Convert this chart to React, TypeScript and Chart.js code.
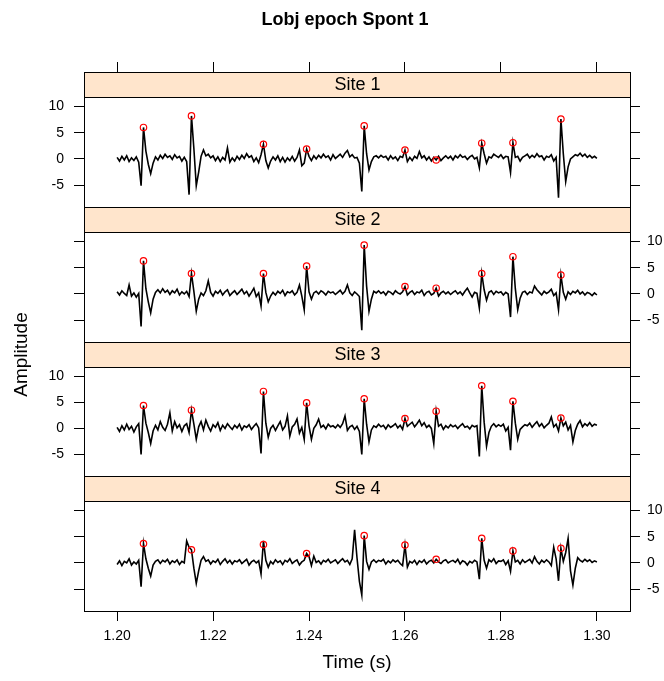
import React, { useEffect, useRef } from 'react';
import { Chart, registerables } from 'chart.js';

Chart.register(...registerables);

// ---------------- data ----------------
const TITLE = 'Lobj epoch Spont 1';
const X_LABEL = 'Time (s)';
const Y_LABEL = 'Amplitude';
const SITES = ['Site 1', 'Site 2', 'Site 3', 'Site 4'];
const X_TICKS = [1.2, 1.22, 1.24, 1.26, 1.28, 1.3];
const X_TICK_LABELS = ['1.20', '1.22', '1.24', '1.26', '1.28', '1.30'];
const Y_TICKS = [-5, 0, 5, 10];
const Y_TICK_LABELS = ['-5', '0', '5', '10'];

// sampling of the traces (start time and sample step, seconds)
const T_START = 1.2;
const T_STEP = 0.0005;

// detected spike times (s)
const SPIKE_TIMES = [1.2055, 1.2155, 1.2305, 1.2395, 1.2515, 1.26, 1.2665, 1.276, 1.2825, 1.2925];

const SITE1_PEAKS = [6.0, 8.2, 2.8, 1.9, 6.3, 1.7, -0.2, 3.0, 3.1, 7.6];
const SITE2_PEAKS = [6.3, 3.9, 3.9, 5.3, 9.3, 1.4, 1.1, 3.9, 7.1, 3.6];
const SITE3_PEAKS = [4.4, 3.5, 7.1, 4.9, 5.7, 1.9, 3.3, 8.2, 5.2, 2.0];
const SITE4_PEAKS = [3.7, 2.5, 3.5, 1.8, 5.2, 3.4, 0.7, 4.7, 2.3, 2.8];

const SITE1 = [
  0.3, -0.4, 0.5, -0.2, 0.6, -0.5, 0.2, -0.3, 0.4, -0.6,
  -5.1, 6.0, 1.5, -1.0, -2.8, -0.8, 0.4, -0.2, 0.7, 0.1,
  0.9, 0.3, 0.6, -0.1, 0.8, 0.2, 0.5, -0.4, 0.3, -0.5,
  -6.8, 8.2, 2.0, -5.1, -2.5, 0.5, 1.7, 0.6, 0.9, 0.2,
  0.6, -0.3, 0.4, -0.5, 0.3, -0.2, 2.1, -0.6, 0.2, -0.4,
  0.5, -0.1, 0.7, 0.1, 1.0, 0.3, 0.6, -0.5, 0.2, -0.7,
  0.8, 2.8, -0.3, -1.7, -0.4, 0.4, -0.2, 0.6, -0.5, 0.3,
  -0.6, 0.2, -0.3, 0.5, -0.4, 0.3, 1.7, -1.3, -0.8, 1.9,
  0.5, -0.3, 0.6, 0.0, 0.7, 0.2, 0.9, 0.3, 0.6, -0.2,
  0.8, 0.1, 0.5, 0.9, 0.3, 1.1, 1.6, 0.4, 0.8, 0.2,
  0.3, -0.8, -6.2, 6.3, 1.0, -2.1, -0.5, 0.4, 0.6, 0.2,
  0.7, 0.3, 0.5, -0.2, 0.6, 0.0, 0.4, -0.3, 0.5, 0.3,
  1.7, -0.5, 0.3, -0.3, 0.5, 0.1, 1.4, 0.2, 0.6, -0.2,
  0.4, -0.4, 0.3, -0.2, 0.5, -0.3, 0.2, 0.6, 0.1, 0.5,
  -0.2, 0.6, 0.2, 0.8, 0.3, 0.5, -0.1, 0.4, 0.7, 0.0,
  0.3, -1.7, 3.0, 1.0, -0.8, 0.4, 0.2, 0.9, 0.6, 0.3,
  0.8, 0.1, 0.5, 0.4, -2.6, 3.1, 0.3, 0.5, -0.4, 0.3,
  0.6, 0.9, 0.2, 0.7, 0.3, 1.0, 0.4, 0.6, -0.2, 0.5,
  0.3, 0.8, -0.4, 0.3, -7.4, 7.6, 1.0, -4.3, -1.5, 0.0,
  0.4, 0.8, 0.6, 1.1, 0.5, 0.9, 0.3, 0.7, 0.2, 0.5,
  0.1,
];

const SITE2 = [
  0.4, -0.2, 0.6, 0.1, -0.3, 1.7, -0.4, 0.2, -0.6, 0.1,
  -6.2, 6.3, 1.0, -1.5, -3.6, -1.0, 0.3, 0.8, 0.2, 1.0,
  0.3, 0.7, -0.1, 0.6, 0.2, 0.9, -0.2, 0.4, 0.0, 0.5,
  -0.5, 3.9, 0.5, -3.3, -1.0, 0.2, -0.3, 0.6, 2.5, 0.3,
  -0.4, 0.5, 0.1, 0.7, -0.2, 0.4, 0.8, -0.3, 0.2, 0.6,
  -0.1, 0.4, 0.9, 0.0, 0.5, -0.4, 0.3, 1.1, -0.5, 0.2,
  -2.3, 3.9, 0.3, -1.5, -0.4, 0.3, -0.2, 0.5, 0.1, 0.7,
  -0.3, 0.4, 0.2, 0.6, -0.2, 0.3, 1.7, -0.4, -3.0, 5.3,
  0.4, -1.0, 0.2, 0.5, 0.0, 0.6, 0.3, -0.2, 0.5, 0.2,
  0.4, -0.1, 0.3, 0.7, 0.0, 0.5, 1.7, 0.2, -0.3, 0.4,
  0.0, -0.5, -6.9, 9.3, 1.5, -3.3, -1.0, 0.5, 0.2, 0.6,
  0.1, 0.4, -0.2, 0.5, 0.3, -0.1, 0.6, 0.2, 0.0, 0.4,
  1.4, -0.2, 0.3, 0.6, -0.1, 0.4, 0.2, 0.7, -0.3, 0.3,
  0.5, -0.2, 0.1, 1.1, -0.4, 0.2, 0.5, 0.0, 0.4, -0.1,
  0.3, 0.6, 0.0, 0.4, -0.2, 0.5, 1.1, 0.2, -0.6, 0.3,
  0.1, -2.7, 3.9, 0.8, -1.2, 0.3, 0.6, -0.1, 0.5, 0.2,
  0.4, -0.2, 0.3, 0.0, -4.4, 7.1, 1.0, -3.0, -0.8, 0.3,
  0.5, -0.1, 0.4, 0.2, 1.5, 0.8, 0.3, -0.2, 0.5, 0.1,
  0.4, 0.9, -0.3, 0.2, -3.0, 3.6, 0.3, -1.0, 0.4, -0.1,
  0.5, 0.2, 0.7, 0.0, 0.4, -0.2, 0.3, 0.1, -0.3, 0.2,
  -0.2,
];

const SITE3 = [
  0.2, -0.6, 0.5, -0.3, 0.8, -0.2, 0.4, -0.7, 0.3, 0.9,
  -5.0, 4.4, 1.0, -0.8, -2.9, -0.5, 0.6, -0.3, 1.3, 0.2,
  -0.4, 0.8, 3.0, -0.5, 1.3, 0.1, 0.7, -0.6, 0.5, 0.9,
  -0.8, 3.5, 0.8, -2.1, 0.3, 1.3, -0.3, 1.6, 0.4, -0.5,
  0.7, 0.2, 1.1, -0.4, 0.6, 0.0, 0.9, 0.3, -0.2, 0.6,
  0.1, 0.8, -0.3, 0.5, 0.2, 0.7, -0.2, 0.4, 0.9, 0.1,
  -4.8, 7.1, 1.0, -1.7, 0.0, 0.6, -0.4, 0.5, 1.3, -0.3,
  0.4, 2.4, -1.5, 0.3, 0.8, 1.8, -0.9, 0.2, -2.1, 4.9,
  0.5, -2.1, 0.0, 0.7, 1.8, 0.2, 0.6, -0.1, 0.8, 0.3,
  0.5, 0.1, 0.7, 0.2, 0.9, 2.4, -0.4, 0.3, 0.6, -0.2,
  0.4, -0.6, -5.0, 5.7, 0.8, -2.6, -0.3, 0.5, 0.2, 0.8,
  0.3, 0.6, -0.1, 0.7, 0.2, 0.5, 0.9, 0.1, 0.6, -0.2,
  1.9, 0.4, 0.8, 1.2, 0.3, 0.9, 1.6, 0.5, 1.1, 0.2,
  0.6, 0.0, -2.9, 3.3, 0.4, 0.8, -0.2, 0.5, 0.1, 0.7,
  0.3, 0.6, 0.0, 0.5, 0.9, 0.2, 0.4, -0.1, 0.6, 0.3,
  0.5, -5.4, 8.2, 1.2, -3.4, -0.8, 0.4, 0.9, 0.3, 0.7,
  0.4, 0.8, -0.5, 0.2, -4.2, 5.2, 1.0, -2.1, -0.2, 0.3,
  0.7, 0.5, 1.0, 0.2, 0.8, 1.3, 0.4, 0.9, 0.1, 0.6,
  1.0, 2.2, 0.3, 0.8, -0.5, 2.0, 0.5, 1.2, -0.3, 0.6,
  -2.6, -0.4, 0.8, 1.5, 0.3, 0.9, 0.5, 1.1, 0.4, 0.8,
  0.6,
];

const SITE4 = [
  -0.3, 0.4, -0.5, 0.3, 0.0, 0.8, -0.4, 0.2, -0.2, 0.5,
  -4.5, 3.7, 0.8, -1.0, -2.5, -0.4, 0.3, 0.6, -0.1, 0.5,
  0.2, 0.7, -0.2, 0.4, 0.1, 0.6, -0.3, 0.3, 0.0, 4.2,
  3.0, 2.5, -1.0, -3.9, -1.5, 0.5, 1.2, 0.3, 0.6, -0.2,
  0.4, 0.1, 0.7, -0.3, 0.3, 0.8, 0.0, 0.5, -0.2, 0.4,
  0.2, 0.6, -0.1, 0.3, 0.7, -0.4, 0.2, 0.5, 0.0, 0.4,
  -2.1, 4.2, 0.5, -0.8, 0.3, -0.2, 0.6, 0.1, 0.4, -0.3,
  0.5, 0.2, 0.8, -0.1, 0.3, 0.6, -0.4, 0.2, 0.5, 1.8,
  1.2, -0.5, 1.3, 0.1, 0.4, -0.2, 0.5, 0.2, 0.7, 0.0,
  0.3, 0.6, -0.1, 0.4, 0.8, 0.2, 0.5, -0.3, 0.8, 6.3,
  1.0, -3.5, -6.1, 5.2, 0.3, -1.2, 0.2, 0.6, 0.1, 0.5,
  0.3, 0.7, -0.2, 0.4, 0.0, 0.6, 0.2, 0.5, -0.1, -0.5,
  3.4, -0.8, 0.3, 0.0, 0.5, -0.3, 0.4, 0.1, 0.6, -0.2,
  0.3, 0.5, 0.0, 0.7, 0.2, -0.1, 0.4, 0.6, 0.0, 0.3,
  0.5, 0.1, 0.7, -0.2, 0.4, 0.2, -0.4, 0.3, 0.0, 0.5,
  0.2, -3.1, 4.7, 0.5, -1.0, 0.6, 0.2, 0.8, -0.1, 0.4,
  0.3, 0.6, -0.3, 0.4, -1.6, 2.3, 0.2, 0.5, -0.2, 0.6,
  0.1, 0.4, 0.7, 0.0, 1.2, 0.3, -0.2, 0.5, 0.1, 0.6,
  0.2, -0.5, 3.0, 0.8, -3.4, 2.8, 0.3, 2.0, 4.7, -1.5,
  -4.2, -1.0, 1.0, 0.5, 0.2, 0.7, 0.3, 0.6, 0.1, 0.4,
  0.2,
];

const SITE_SERIES = [SITE1, SITE2, SITE3, SITE4];
const SITE_PEAKS = [SITE1_PEAKS, SITE2_PEAKS, SITE3_PEAKS, SITE4_PEAKS];

// ---------------- layout / style ----------------
const W = 664;
const H = 681;
const FONT = '"Liberation Sans", Arial, Helvetica, sans-serif';
const X_MIN = 1.1931;
const X_MAX = 1.3069;
const Y_MIN = -9.15;
const Y_MAX = 11.8;
const STRIP_BG = '#ffe5cc';
const LEFT_W = 84;
const RIGHT_W = 34;
const TOP_H = 72;
const BOTTOM_H = 70;
const STRIP_H = 25;
const PANEL_HS = [110, 110, 109, 110];

function buildScales() {
  const scales: any = {
    x: {
      type: 'linear',
      position: 'bottom',
      min: X_MIN,
      max: X_MAX,
      afterBuildTicks: (s: any) => {
        s.ticks = X_TICKS.map((v) => ({ value: v }));
      },
      afterFit: (s: any) => {
        s.height = BOTTOM_H;
      },
      ticks: {
        autoSkip: false,
        maxRotation: 0,
        padding: 7,
        color: '#000',
        font: { family: FONT, size: 14 },
        callback: (_v: any, i: number) => X_TICK_LABELS[i],
      },
      grid: { drawOnChartArea: false, drawTicks: true, tickLength: 10, color: '#000' },
      border: { display: false },
      title: {
        display: true,
        text: X_LABEL,
        color: '#000',
        font: { family: FONT, size: 19 },
        padding: { top: 0, bottom: 7 },
      },
    },
    xTop: {
      type: 'linear',
      position: 'top',
      min: X_MIN,
      max: X_MAX,
      afterBuildTicks: (s: any) => {
        s.ticks = X_TICKS.map((v) => ({ value: v }));
      },
      afterFit: (s: any) => {
        s.height = TOP_H;
      },
      ticks: { display: false },
      grid: { drawOnChartArea: false, drawTicks: true, tickLength: 10, color: '#000' },
      border: { display: false },
    },
  };

  ['L', 'R'].forEach((side) => {
    let j = 0;
    for (let k = 0; k < 4; k++) {
      const orderWeight = (jj: number) => (side === 'L' ? 100 - jj : jj + 1);
      const pos = side === 'L' ? 'left' : 'right';
      const width = side === 'L' ? LEFT_W : RIGHT_W;
      // strip band
      scales[`s${k}${side}`] = {
        type: 'linear',
        position: pos,
        stack: side,
        stackWeight: STRIP_H,
        weight: orderWeight(j++),
        min: 0,
        max: 1,
        afterFit: (s: any) => {
          s.width = width;
        },
        ticks: { display: false },
        grid: { display: false },
        border: { display: false },
        title:
          side === 'L' && k === 2
            ? {
                display: true,
                text: Y_LABEL,
                color: '#000',
                font: { family: FONT, size: 19 },
                padding: { top: 10, bottom: 0 },
              }
            : { display: false },
      };
      // data panel band
      const showLabels = side === 'L' ? k % 2 === 0 : k % 2 === 1;
      scales[`y${k}${side}`] = {
        type: 'linear',
        position: pos,
        stack: side,
        stackWeight: PANEL_HS[k],
        weight: orderWeight(j++),
        min: Y_MIN,
        max: Y_MAX,
        afterBuildTicks: (s: any) => {
          s.ticks = Y_TICKS.map((v) => ({ value: v }));
        },
        afterFit: (s: any) => {
          s.width = width;
        },
        ticks: {
          display: showLabels,
          padding: side === 'L' ? 10 : 7,
          color: '#000',
          font: { family: FONT, size: 14 },
          callback: (_v: any, i: number) => Y_TICK_LABELS[i],
        },
        grid: { drawOnChartArea: false, drawTicks: true, tickLength: 10, color: '#000' },
        border: { display: false },
      };
    }
  });
  return scales;
}

const latticePlugin = {
  id: 'latticeStrips',
  beforeDatasetsDraw(chart: any) {
    const { ctx, chartArea } = chart;
    const left = Math.round(chartArea.left) + 0.5;
    const right = Math.round(chartArea.right) + 0.5;
    ctx.save();
    for (let k = 0; k < 4; k++) {
      const s = chart.scales[`s${k}L`];
      const top = Math.round(s.top) + 0.5;
      const bottom = Math.round(s.bottom) + 0.5;
      ctx.fillStyle = STRIP_BG;
      ctx.fillRect(left, top, right - left, bottom - top);
      ctx.strokeStyle = '#000';
      ctx.lineWidth = 1;
      ctx.strokeRect(left, top, right - left, bottom - top);
      ctx.fillStyle = '#000';
      ctx.font = `18px ${FONT}`;
      ctx.textAlign = 'center';
      ctx.textBaseline = 'middle';
      ctx.fillText(SITES[k], (left + right) / 2, (s.top + s.bottom) / 2 + 1);
    }
    ctx.restore();
  },
  afterDatasetsDraw(chart: any) {
    const { ctx, chartArea } = chart;
    const left = Math.round(chartArea.left) + 0.5;
    const right = Math.round(chartArea.right) + 0.5;
    ctx.save();
    ctx.strokeStyle = '#000';
    ctx.lineWidth = 1;
    for (let k = 0; k < 4; k++) {
      const d = chart.scales[`y${k}L`];
      const top = Math.round(d.top) + 0.5;
      const bottom = Math.round(d.bottom) + 0.5;
      ctx.strokeRect(left, top, right - left, bottom - top);
    }
    // main title
    ctx.fillStyle = '#000';
    ctx.font = `bold 18px ${FONT}`;
    ctx.textAlign = 'center';
    ctx.textBaseline = 'middle';
    ctx.fillText(TITLE, 345, 20);
    ctx.restore();
  },
};

export default function App() {
  const canvasRef = useRef<HTMLCanvasElement | null>(null);

  useEffect(() => {
    const canvas = canvasRef.current;
    if (!canvas) return;
    const datasets: any[] = [];
    for (let k = 0; k < 4; k++) {
      datasets.push({
        type: 'scatter',
        label: `${SITES[k]} spikes`,
        data: SPIKE_TIMES.map((t, j) => ({ x: t, y: SITE_PEAKS[k][j] })),
        xAxisID: 'x',
        yAxisID: `y${k}L`,
        showLine: false,
        pointRadius: 3.2,
        pointHoverRadius: 3.2,
        pointBorderWidth: 1.2,
        pointBorderColor: '#ff0000',
        pointBackgroundColor: 'rgba(0,0,0,0)',
        order: 0,
      });
      datasets.push({
        type: 'line',
        label: SITES[k],
        data: SITE_SERIES[k].map((v, i) => ({ x: T_START + i * T_STEP, y: v })),
        xAxisID: 'x',
        yAxisID: `y${k}L`,
        borderColor: '#000',
        borderWidth: 1.6,
        pointRadius: 0,
        tension: 0,
        fill: false,
        order: 1,
      });
    }
    const chart = new Chart(canvas, {
      type: 'line',
      data: { datasets },
      options: {
        responsive: false,
        maintainAspectRatio: false,
        devicePixelRatio: 1,
        animation: false,
        events: [],
        layout: { padding: 0, autoPadding: false },
        plugins: {
          legend: { display: false },
          tooltip: { enabled: false },
          title: { display: false },
        },
        scales: buildScales(),
      } as any,
      plugins: [latticePlugin],
    });
    return () => chart.destroy();
  }, []);

  return (
    <div style={{ position: 'absolute', left: 0, top: 0, width: W, height: H, background: '#fff' }}>
      <canvas ref={canvasRef} width={W} height={H} style={{ display: 'block' }} />
    </div>
  );
}
